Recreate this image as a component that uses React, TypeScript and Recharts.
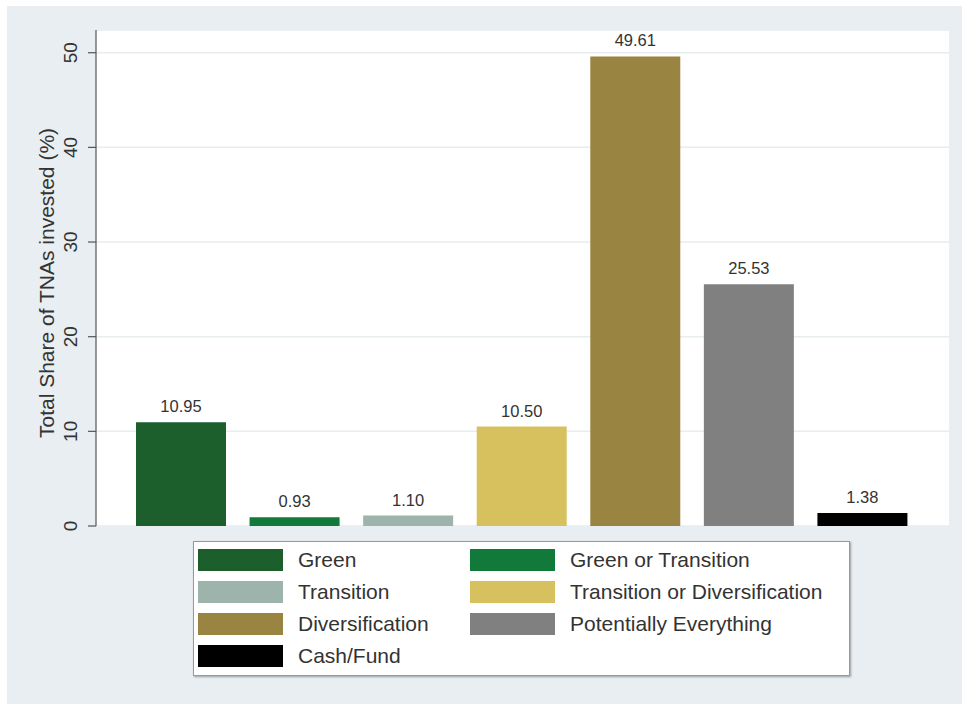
import React from 'react';
import { BarChart, Bar, XAxis, YAxis, CartesianGrid, Cell, LabelList, Label } from 'recharts';

const CATEGORIES = [
  'Green',
  'Green or Transition',
  'Transition',
  'Transition or Diversification',
  'Diversification',
  'Potentially Everything',
  'Cash/Fund'
];
const SHARES = [10.95, 0.93, 1.1, 10.5, 49.61, 25.53, 1.38];
const COLORS = ['#1d5e2d', '#117a3b', '#9db4ad', '#d7c15f', '#9a8441', '#808080', '#000000'];
const Y_TICKS = [0, 10, 20, 30, 40, 50];

const DATA = CATEGORIES.map((name, i) => ({ name, share: SHARES[i] }));

const FONT = '"Liberation Sans", Arial, sans-serif';

// rotated y tick labels, stata style
const YTick = (props: any) => {
  const { x, y, payload } = props;
  const bx = x - 9;
  return (
    <text
      x={bx}
      y={y}
      transform={`rotate(-90 ${bx} ${y})`}
      textAnchor="middle"
      fontSize={19}
      fontFamily={FONT}
      fill="#333"
    >
      {payload.value}
    </text>
  );
};

const YTitle = (props: any) => {
  const vb = props.viewBox || { x: 36, y: 30, width: 60, height: 496 };
  const cx = 54;
  const cy = vb.y + vb.height / 2 + 5;
  return (
    <text
      x={cx}
      y={cy}
      transform={`rotate(-90 ${cx} ${cy})`}
      textAnchor="middle"
      fontSize={21}
      fontFamily={FONT}
      fill="#333"
    >
      Total Share of TNAs invested (%)
    </text>
  );
};

const ChartLegend: React.FC = () => (
  <div
    style={{
      position: 'absolute',
      left: 193,
      top: 541,
      width: 655,
      height: 133,
      background: '#fff',
      border: '1px solid #999',
      boxShadow: '1px 1px 2px rgba(0,0,0,0.35)',
      fontFamily: FONT,
      fontSize: 21,
      color: '#333'
    }}
  >
    {CATEGORIES.map((name, i) => (
      <div
        key={name}
        style={{
          position: 'absolute',
          left: (i % 2) * 272 + 4,
          top: Math.floor(i / 2) * 32 + 7,
          height: 22,
          display: 'flex',
          alignItems: 'center',
          whiteSpace: 'nowrap'
        }}
      >
        <div style={{ width: 85, height: 22, background: COLORS[i], marginRight: 15 }} />
        <span>{name}</span>
      </div>
    ))}
  </div>
);

const App: React.FC = () => {
  return (
    <div style={{ position: 'absolute', left: 0, top: 0, width: 962, height: 704, background: '#fff' }}>
      <div style={{ position: 'absolute', left: 7, top: 6, width: 955, height: 698, background: '#e8eef1' }} />
      <BarChart
        width={962}
        height={704}
        data={DATA}
        margin={{ top: 30, right: 13, bottom: 178, left: 36 }}
        style={{ position: 'absolute', left: 0, top: 0 }}
      >
        <CartesianGrid fill="#ffffff" vertical={false} stroke="#e8edf0" strokeWidth={1.5} />
        <XAxis
          dataKey="name"
          height={0}
          tick={false}
          tickLine={false}
          axisLine={{ stroke: '#222', strokeWidth: 1.5 }}
          padding={{ left: 28, right: 30 }}
        />
        <YAxis
          width={60}
          domain={[0, 52.4]}
          ticks={Y_TICKS}
          interval={0}
          tickSize={8}
          tickMargin={2}
          axisLine={{ stroke: '#555', strokeWidth: 1.2 }}
          tickLine={{ stroke: '#555', strokeWidth: 1.2 }}
          tick={YTick}
        >
          <Label content={YTitle} />
        </YAxis>
        <Bar dataKey="share" barSize={90} isAnimationActive={false}>
          {DATA.map((d, i) => (
            <Cell key={d.name} fill={COLORS[i]} />
          ))}
          <LabelList
            dataKey="share"
            position="top"
            offset={10}
            formatter={(v: any) => Number(v).toFixed(2)}
            style={{ fontSize: 16.5, fontFamily: FONT, fill: '#333' }}
          />
        </Bar>
      </BarChart>
      <ChartLegend />
    </div>
  );
};

export default App;
